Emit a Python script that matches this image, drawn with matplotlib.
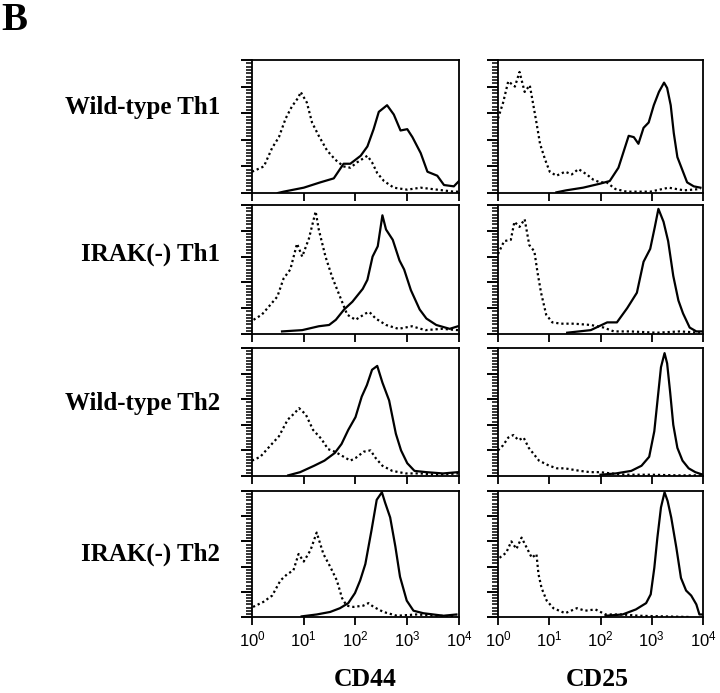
from matplotlib import pyplot as plt, rc
from matplotlib.ticker import MultipleLocator, FixedLocator, NullFormatter
import numpy as np

# log10 fluorescence positions and % of max counts
# dotted = isotype control, solid = specific stain
cd44_wt_th1_ctrl_x = [0.0, 0.23, 0.39, 0.52, 0.65, 0.77, 0.90, 0.94, 1.06, 1.16, 1.29, 1.45, 1.61, 1.77, 1.90,
                      2.03, 2.23, 2.32, 2.42, 2.55, 2.74, 3.00, 3.26, 3.58, 3.90, 4.0]
cd44_wt_th1_ctrl_y = [16, 20, 34, 42, 56, 65, 72, 76, 68, 53, 43, 32, 25, 20, 19, 23, 28, 23, 15, 9, 4, 2.5, 4,
                      2.5, 1, 1]
cd44_wt_th1_stain_x = [0.50, 0.61, 1.0, 1.32, 1.58, 1.77, 1.90, 2.10, 2.23, 2.35, 2.45, 2.61, 2.74, 2.87, 3.0,
                       3.10, 3.26, 3.39, 3.58, 3.71, 3.90, 4.0]
cd44_wt_th1_stain_y = [0, 1, 4, 8, 11, 22, 22, 28, 35, 48, 61, 66, 59, 47, 48, 42, 30, 16, 13, 6, 5, 9]

cd44_irak_th1_ctrl_x = [0.03, 0.19, 0.32, 0.49, 0.61, 0.74, 0.87, 0.97, 1.10, 1.23, 1.29, 1.42, 1.55, 1.65, 1.75,
                        1.84, 2.00, 2.20, 2.27, 2.39, 2.59, 2.83, 3.09, 3.35, 3.67, 3.98]
cd44_irak_th1_ctrl_y = [11, 15, 21, 29, 43, 50, 70, 60, 74, 95, 81, 60, 44, 34, 24, 15, 11, 16, 17, 12, 7, 4, 6,
                        3, 4, 3]
cd44_irak_th1_stain_x = [0.58, 0.97, 1.29, 1.49, 1.62, 1.78, 1.94, 2.14, 2.23, 2.33, 2.43, 2.52, 2.59, 2.72, 2.85,
                         2.94, 3.07, 3.24, 3.37, 3.56, 3.82, 3.98]
cd44_irak_th1_stain_y = [2, 3, 6, 7, 11, 19, 25, 35, 42, 60, 68, 92, 81, 73, 57, 50, 34, 19, 12, 7, 4, 6]

cd44_wt_th2_ctrl_x = [0.0, 0.16, 0.36, 0.52, 0.69, 0.82, 0.91, 1.04, 1.18, 1.34, 1.47, 1.60, 1.73, 1.90, 2.00,
                      2.16, 2.29, 2.39, 2.52, 2.71, 2.97, 3.24, 3.56, 3.98]
cd44_wt_th2_ctrl_y = [12, 15, 24, 31, 44, 49, 53, 48, 36, 29, 21, 19, 16, 12, 14, 19, 20, 14, 8, 4, 2, 2, 1, 2]
cd44_wt_th2_stain_x = [0.70, 0.93, 1.20, 1.40, 1.60, 1.73, 1.86, 2.00, 2.12, 2.22, 2.32, 2.42, 2.52, 2.65, 2.78,
                       2.88, 3.00, 3.14, 3.37, 3.69, 3.98]
cd44_wt_th2_stain_y = [0.5, 3, 8, 12, 18, 25, 36, 46, 62, 71, 83, 86, 73, 59, 33, 20, 10, 4, 3, 2, 3]

cd44_irak_th2_ctrl_x = [0.02, 0.22, 0.39, 0.55, 0.68, 0.80, 0.90, 1.00, 1.13, 1.25, 1.38, 1.51, 1.64, 1.74, 1.83,
                        1.96, 2.15, 2.25, 2.35, 2.54, 2.80, 3.18, 3.57, 3.95]
cd44_irak_th2_ctrl_y = [8, 12, 17, 29, 34, 37, 50, 44, 53, 67, 50, 40, 29, 15, 9, 8, 9, 11, 8, 4, 1, 2, 1, 0.5]
cd44_irak_th2_stain_x = [0.96, 1.25, 1.51, 1.70, 1.86, 1.99, 2.09, 2.19, 2.31, 2.41, 2.51, 2.57, 2.67, 2.77, 2.86,
                         2.99, 3.12, 3.31, 3.70, 3.95]
cd44_irak_th2_stain_y = [0.5, 2, 4, 7, 11, 19, 29, 42, 69, 93, 99, 91, 79, 56, 32, 13, 5, 3, 1, 2]

cd25_wt_th1_ctrl_x = [0.0, 0.10, 0.20, 0.33, 0.42, 0.52, 0.62, 0.69, 0.75, 0.82, 0.92, 1.01, 1.14, 1.31, 1.44,
                      1.57, 1.73, 1.86, 1.99, 2.12, 2.29, 2.51, 2.97, 3.33, 3.63, 3.95]
cd25_wt_th1_ctrl_y = [56, 68, 84, 80, 91, 76, 81, 66, 53, 37, 25, 16, 13, 16, 14, 18, 14, 10, 8, 8, 3, 1, 1, 4,
                      2, 3]
cd25_wt_th1_stain_x = [1.14, 1.33, 1.66, 1.99, 2.18, 2.35, 2.45, 2.55, 2.65, 2.74, 2.84, 2.94, 3.04, 3.14, 3.24,
                       3.30, 3.37, 3.43, 3.50, 3.59, 3.69, 3.82, 3.95]
cd25_wt_th1_stain_y = [0.5, 2, 4, 7, 9, 19, 31, 43, 42, 37, 49, 53, 66, 76, 83, 79, 66, 45, 27, 18, 8, 5, 4]

cd25_irak_th1_ctrl_x = [0.0, 0.12, 0.25, 0.32, 0.42, 0.52, 0.61, 0.71, 0.77, 0.84, 0.94, 1.06, 1.23, 1.48, 1.81,
                        2.06, 2.26, 2.58, 3.10, 3.55, 3.94]
cd25_irak_th1_ctrl_y = [62, 72, 73, 87, 83, 89, 69, 64, 48, 32, 15, 9, 8, 8, 7, 5, 2, 2, 1, 2, 1]
cd25_irak_th1_stain_x = [1.35, 1.81, 2.13, 2.32, 2.52, 2.71, 2.84, 2.97, 3.06, 3.13, 3.23, 3.32, 3.42, 3.52, 3.61,
                         3.74, 3.87, 4.0]
cd25_irak_th1_stain_y = [1, 3, 9, 9, 20, 32, 56, 66, 83, 97, 87, 72, 45, 26, 16, 5, 2, 2]

cd25_wt_th2_ctrl_x = [0.0, 0.1, 0.2, 0.3, 0.4, 0.5, 0.6, 0.7, 0.8, 0.9, 1.0, 1.15, 1.3, 1.45, 1.6, 1.8, 2.0, 2.2,
                      2.5, 3.0, 3.5, 4.0]
cd25_wt_th2_ctrl_y = [20, 24, 30, 32, 28, 30, 22, 17, 12, 10, 8, 6, 6, 5, 4, 3, 3, 2, 1, 1, 0.5, 0.5]
cd25_wt_th2_stain_x = [2.0, 2.3, 2.6, 2.8, 2.95, 3.05, 3.12, 3.18, 3.25, 3.30, 3.36, 3.42, 3.50, 3.60, 3.72, 3.85,
                       4.0]
cd25_wt_th2_stain_y = [1, 2, 4, 8, 15, 35, 62, 85, 96, 88, 65, 40, 22, 12, 6, 3, 1]

cd25_irak_th2_ctrl_x = [0.03, 0.16, 0.26, 0.36, 0.46, 0.56, 0.66, 0.75, 0.79, 0.85, 0.95, 1.08, 1.31, 1.54, 1.70,
                        1.90, 2.10, 2.43, 2.75, 3.21, 3.74]
cd25_irak_th2_ctrl_y = [47, 51, 60, 54, 63, 55, 47, 50, 34, 23, 13, 7, 3, 7, 5, 6, 2, 2, 1, 0.5, 0]
cd25_irak_th2_stain_x = [2.10, 2.43, 2.69, 2.89, 2.98, 3.05, 3.11, 3.18, 3.25, 3.31, 3.38, 3.48, 3.57, 3.67, 3.77,
                         3.87, 3.93, 4.0]
cd25_irak_th2_stain_y = [1, 2, 6, 11, 18, 39, 63, 87, 99, 92, 79, 55, 31, 21, 17, 10, 2, 2]

row_labels = ['Wild-type Th1', 'IRAK(-) Th1', 'Wild-type Th2', 'IRAK(-) Th2']
column_labels = ['CD44', 'CD25']
decade_ticks = [1, 10, 100, 1000, 10000]
decade_labels = ['$10^0$', '$10^1$', '$10^2$', '$10^3$', '$10^4$']

panels = [
    [(cd44_wt_th1_ctrl_x, cd44_wt_th1_ctrl_y, cd44_wt_th1_stain_x, cd44_wt_th1_stain_y),
     (cd25_wt_th1_ctrl_x, cd25_wt_th1_ctrl_y, cd25_wt_th1_stain_x, cd25_wt_th1_stain_y)],
    [(cd44_irak_th1_ctrl_x, cd44_irak_th1_ctrl_y, cd44_irak_th1_stain_x, cd44_irak_th1_stain_y),
     (cd25_irak_th1_ctrl_x, cd25_irak_th1_ctrl_y, cd25_irak_th1_stain_x, cd25_irak_th1_stain_y)],
    [(cd44_wt_th2_ctrl_x, cd44_wt_th2_ctrl_y, cd44_wt_th2_stain_x, cd44_wt_th2_stain_y),
     (cd25_wt_th2_ctrl_x, cd25_wt_th2_ctrl_y, cd25_wt_th2_stain_x, cd25_wt_th2_stain_y)],
    [(cd44_irak_th2_ctrl_x, cd44_irak_th2_ctrl_y, cd44_irak_th2_stain_x, cd44_irak_th2_stain_y),
     (cd25_irak_th2_ctrl_x, cd25_irak_th2_ctrl_y, cd25_irak_th2_stain_x, cd25_irak_th2_stain_y)],
]

rc('mathtext', fontset='custom', rm='Liberation Sans', it='Liberation Sans')
serif = ['Liberation Serif', 'DejaVu Serif']

fig = plt.figure(figsize=(7.2, 6.93), dpi=100)

# panel boxes in pixels (top, bottom) and (left, right), measured on the 720x693 scan
row_px = [(60, 193), (205, 334), (348, 476), (491, 617)]
col_px = [(252, 459), (498, 703)]
label_y = [0.64, 0.62, 0.57, 0.5]

for r, (top, bottom) in enumerate(row_px):
    for c, (left, right) in enumerate(col_px):
        ax = fig.add_axes([left / 720, 1 - bottom / 693, (right - left) / 720, (bottom - top) / 693])
        ctrl_x, ctrl_y, stain_x, stain_y = panels[r][c]
        ax.plot(10 ** np.array(ctrl_x), ctrl_y, color='black', linestyle=(0, (1, 1.3)), linewidth=1.6)
        ax.plot(10 ** np.array(stain_x), stain_y, color='black', linewidth=1.6)

        ax.set_xscale('log')
        ax.set_xlim(1, 10000)
        ax.set_ylim(0, 100)
        ax.xaxis.set_major_locator(FixedLocator(decade_ticks))
        ax.yaxis.set_major_locator(MultipleLocator(20))
        ax.yaxis.set_minor_locator(MultipleLocator(2.5))
        ax.yaxis.set_major_formatter(NullFormatter())
        ax.tick_params(axis='x', which='major', length=6, width=1.3, direction='out')
        ax.tick_params(axis='x', which='minor', length=3.5, width=1.1, direction='out')
        ax.tick_params(axis='y', which='major', length=8, width=1.4, direction='out')
        ax.tick_params(axis='y', which='minor', length=4.5, width=1.1, direction='out')
        for spine in ax.spines.values():
            spine.set_linewidth(1.3)

        if r == len(row_px) - 1:
            ax.set_xticklabels(decade_labels, fontsize=12)
        else:
            ax.set_xticklabels([])
        ax.xaxis.set_minor_formatter(NullFormatter())

        if c == 0:
            ax.text(-0.155, label_y[r], row_labels[r], transform=ax.transAxes, ha='right', va='center',
                    fontsize=18, fontweight='bold', family=serif)

for c, label in enumerate(column_labels):
    center = (col_px[c][0] + col_px[c][1]) / 2 / 720
    fig.text(center + (0.013 if c == 0 else -0.004), 1 - 679 / 693, label, ha='center', va='center',
             fontsize=18.5, fontweight='bold', family=serif)

fig.text(1 / 720, 1 - 21 / 693, 'B', ha='left', va='center', fontsize=28, fontweight='bold', family=serif)

fig.savefig('out.png', dpi=100)
